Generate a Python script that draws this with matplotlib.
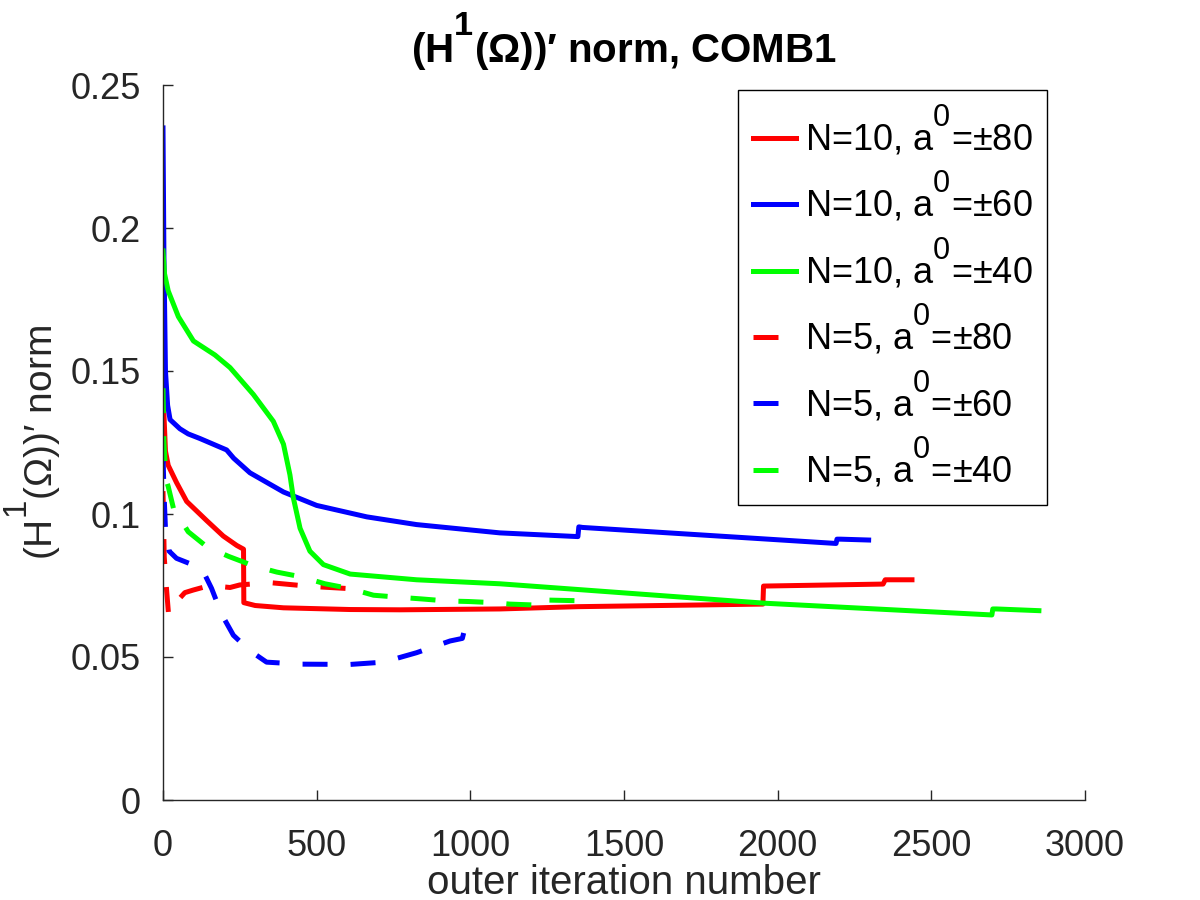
import numpy as np
import matplotlib
matplotlib.use('Agg')
import matplotlib.pyplot as plt

plt.rcParams['font.family'] = ['Liberation Sans', 'DejaVu Sans']
plt.rcParams['mathtext.fontset'] = 'custom'
plt.rcParams['mathtext.rm'] = 'Liberation Sans'
plt.rcParams['mathtext.it'] = 'Liberation Sans:italic'
plt.rcParams['mathtext.bf'] = 'Liberation Sans:bold'

# octave-style superscripts: bigger and raised higher
try:
    import matplotlib._mathtext as _mt
    _mt.FontConstantsBase.sup1 = 1.2
    _mt.SHRINK_FACTOR = 0.85
except Exception:
    pass

# N=10 runs (solid)
it_r10 = [0, 3, 8, 17, 44, 77, 142, 196, 240, 262, 263, 300, 392, 609, 771, 1096, 1350, 1952, 1954, 2343, 2350, 2437]
v_r10 = [0.183, 0.135, 0.122, 0.117, 0.111, 0.1044, 0.0977, 0.0923, 0.0890, 0.0877, 0.0690, 0.0680, 0.0672, 0.0666,
         0.0665, 0.0668, 0.0676, 0.0685, 0.0748, 0.0755, 0.0770, 0.0770]

it_b10 = [0, 3, 8, 15, 23, 55, 82, 120, 207, 230, 283, 392, 500, 663, 825, 1096, 1350, 1353, 1365, 2190, 2193, 2205, 2296]
v_b10 = [0.235, 0.190, 0.150, 0.138, 0.133, 0.1298, 0.128, 0.1264, 0.1224, 0.1195, 0.1144, 0.1077, 0.1030, 0.0990,
         0.0963, 0.0934, 0.0921, 0.0955, 0.0953, 0.0897, 0.0912, 0.0912, 0.0909]

it_g10 = [0, 5, 17, 50, 99, 169, 218, 294, 359, 392, 413, 424, 446, 478, 522, 609, 825, 1096, 1959, 2697, 2700, 2712, 2850]
v_g10 = [0.192, 0.184, 0.178, 0.169, 0.1605, 0.1556, 0.1512, 0.1418, 0.1324, 0.1244, 0.1137, 0.1057, 0.0950, 0.0870,
         0.0823, 0.0790, 0.0770, 0.0756, 0.0688, 0.0647, 0.0668, 0.0668, 0.0662]

# N=5 runs (dashed)
it_r5 = [0, 4, 12, 18, 30, 44, 71, 98, 152, 218, 250, 348, 478, 608, 657]
v_r5 = [0.108, 0.085, 0.073, 0.065, 0.066, 0.0693, 0.0725, 0.0734, 0.0750, 0.0743, 0.0752, 0.0760, 0.0747, 0.0739, 0.0739]

it_b5 = [0, 3, 8, 20, 44, 126, 158, 191, 229, 283, 337, 446, 609, 717, 825, 934, 974, 979, 1032]
v_b5 = [0.121, 0.108, 0.095, 0.087, 0.0845, 0.081, 0.074, 0.0649, 0.0576, 0.0522, 0.0482, 0.0475, 0.0474, 0.0482,
        0.0515, 0.0556, 0.0565, 0.0587, 0.0595]

it_g5 = [0, 3, 10, 17, 34, 82, 142, 213, 294, 370, 451, 527, 609, 685, 766, 842, 923, 994, 1075, 1128, 1204, 1250,
         1252, 1343]
v_g5 = [0.144, 0.125, 0.112, 0.1096, 0.102, 0.0938, 0.0886, 0.0852, 0.0819, 0.0797, 0.0780, 0.0756, 0.0739, 0.0716,
        0.0709, 0.0703, 0.0696, 0.0694, 0.0690, 0.0685, 0.0682, 0.0680, 0.0699, 0.0697]

labels = [r'N=10, a$^0$=±80', r'N=10, a$^0$=±60', r'N=10, a$^0$=±40',
          r'N=5, a$^0$=±80', r'N=5, a$^0$=±60', r'N=5, a$^0$=±40']

fig = plt.figure(figsize=(12, 9), dpi=100)
ax = fig.add_axes([163/1200, 100/900, 922/1200, 715/900])

lw = 3.6
dash = (0, (5.0, 4.6))
ax.plot(it_r10, v_r10, color='#ff0000', lw=lw, label=labels[0])
ax.plot(it_b10, v_b10, color='#0000ff', lw=lw, label=labels[1])
ax.plot(it_g10, v_g10, color='#00ff00', lw=lw, label=labels[2])
ax.plot(it_r5, v_r5, color='#ff0000', lw=lw, ls=dash, label=labels[3])
ax.plot(it_b5, v_b5, color='#0000ff', lw=lw, ls=dash, label=labels[4])
ax.plot(it_g5, v_g5, color='#00ff00', lw=lw, ls=dash, label=labels[5])

ax.set_xlim(0, 3000)
ax.set_ylim(0, 0.25)
ax.set_xticks(np.arange(0, 3001, 500))
ax.set_yticks([0, 0.05, 0.1, 0.15, 0.2, 0.25])
ax.set_yticklabels(['0', '0.05', '0.1', '0.15', '0.2', '0.25'])

for s in ['top', 'right']:
    ax.spines[s].set_visible(False)
for s in ['left', 'bottom']:
    ax.spines[s].set_color('#262626')
    ax.spines[s].set_linewidth(1.0)
ax.tick_params(direction='in', length=7, width=1, colors='#262626', labelsize=26)
ax.tick_params(axis='x', pad=21)
ax.tick_params(axis='y', pad=16)

ax.set_xlabel('outer iteration number', fontsize=29, color='#262626', labelpad=0)
ax.set_ylabel('(H$^1$(Ω))′ norm', fontsize=28, color='#262626', labelpad=5)
ax.set_title(r'(H$^\mathbf{1}$(Ω))′ norm, COMB1', fontsize=29, fontweight='bold', pad=16)

leg = ax.legend(loc='upper right', bbox_to_anchor=(0.9588, 0.993), fontsize=26, frameon=True, fancybox=False,
                framealpha=1, edgecolor='black', handlelength=1.2, handletextpad=0.25, labelspacing=0.34,
                borderpad=0.4, borderaxespad=0)
leg.get_frame().set_linewidth(1.0)

fig.savefig('out.png', dpi=100)
